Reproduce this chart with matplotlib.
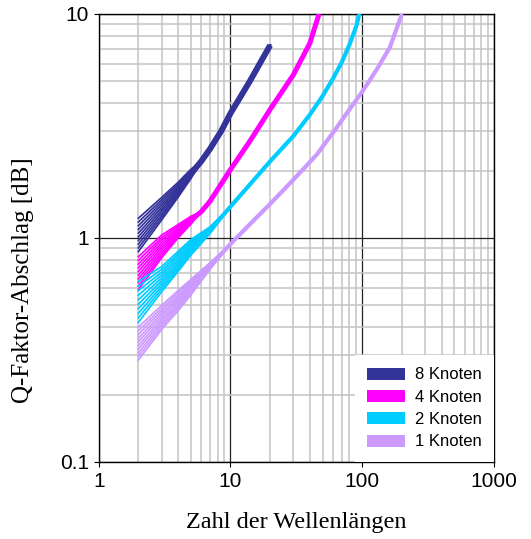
import matplotlib
matplotlib.use('Agg')
import matplotlib.pyplot as plt
from matplotlib.patches import Patch
from matplotlib.ticker import FixedLocator, LogLocator, NullFormatter

# 8 Knoten: Fächer (je Kurve ein Wert pro x) und gemeinsamer Verlauf danach
blue_fan_x = [2, 3, 4, 5]
blue_fan = [
    [0.869, 1.202, 1.519, 1.839],
    [0.903, 1.233, 1.545, 1.859],
    [0.938, 1.265, 1.571, 1.879],
    [0.974, 1.299, 1.598, 1.899],
    [1.012, 1.332, 1.626, 1.920],
    [1.051, 1.367, 1.654, 1.941],
    [1.092, 1.403, 1.682, 1.962],
    [1.134, 1.440, 1.711, 1.983],
    [1.178, 1.478, 1.741, 2.004],
    [1.225, 1.516, 1.772, 2.026],
]
blue_tail_x = [5, 6, 7, 8.5, 10, 14, 20]
blue_tail_y = [1.93, 2.2, 2.5, 3.0, 3.6, 5.0, 7.25]

# 4 Knoten
mag_fan_x = [2, 3, 4, 5]
mag_fan = [
    [0.587, 0.815, 1.000, 1.152],
    [0.609, 0.836, 1.015, 1.163],
    [0.633, 0.858, 1.031, 1.173],
    [0.657, 0.881, 1.047, 1.184],
    [0.682, 0.904, 1.064, 1.194],
    [0.709, 0.928, 1.080, 1.205],
    [0.736, 0.952, 1.097, 1.216],
    [0.764, 0.978, 1.114, 1.227],
    [0.794, 1.003, 1.132, 1.238],
    [0.825, 1.030, 1.148, 1.249],
]
mag_tail_x = [5, 6, 7, 10, 14, 20, 30, 40, 47]
mag_tail_y = [1.20, 1.31, 1.46, 2.02, 2.7, 3.75, 5.35, 7.4, 10.0]

# 2 Knoten
cyan_fan_x = [2, 3, 4, 5, 7]
cyan_fan = [
    [0.420, 0.575, 0.708, 0.838, 1.047],
    [0.440, 0.592, 0.724, 0.853, 1.055],
    [0.461, 0.609, 0.741, 0.868, 1.063],
    [0.483, 0.627, 0.759, 0.884, 1.071],
    [0.506, 0.645, 0.776, 0.900, 1.080],
    [0.530, 0.664, 0.794, 0.916, 1.088],
    [0.555, 0.684, 0.813, 0.932, 1.096],
    [0.582, 0.703, 0.832, 0.949, 1.105],
    [0.609, 0.724, 0.851, 0.966, 1.113],
    [0.640, 0.745, 0.871, 0.984, 1.122],
]
cyan_tail_x = [7, 10, 14, 20, 30, 40, 50, 60, 70, 80, 90, 95]
cyan_tail_y = [1.084, 1.38, 1.73, 2.2, 2.85, 3.55, 4.3, 5.15, 6.1, 7.3, 8.8, 10.0]

# 1 Knoten
lila_fan_x = [2, 3, 4, 5, 7]
lila_fan = [
    [0.285, 0.390, 0.473, 0.556, 0.724],
    [0.296, 0.401, 0.484, 0.566, 0.730],
    [0.307, 0.412, 0.496, 0.576, 0.735],
    [0.319, 0.424, 0.507, 0.587, 0.741],
    [0.331, 0.435, 0.519, 0.598, 0.746],
    [0.344, 0.448, 0.531, 0.608, 0.752],
    [0.357, 0.460, 0.543, 0.619, 0.758],
    [0.371, 0.473, 0.556, 0.631, 0.764],
    [0.385, 0.486, 0.569, 0.642, 0.769],
    [0.400, 0.500, 0.582, 0.653, 0.776],
]
lila_tail_x = [7, 10, 14, 20, 30, 45, 60, 80, 100, 130, 162, 200]
lila_tail_y = [0.75, 0.94, 1.15, 1.42, 1.82, 2.35, 2.95, 3.75, 4.5, 5.7, 7.1, 10.0]

labels = ['8 Knoten', '4 Knoten', '2 Knoten', '1 Knoten']
colors = ['#333399', '#ff00ff', '#00ccff', '#cc99ff']
tail_widths = [4.3, 3.6, 3.0, 3.0]

groups = [
    (blue_fan_x, blue_fan, blue_tail_x, blue_tail_y),
    (mag_fan_x, mag_fan, mag_tail_x, mag_tail_y),
    (cyan_fan_x, cyan_fan, cyan_tail_x, cyan_tail_y),
    (lila_fan_x, lila_fan, lila_tail_x, lila_tail_y),
]

fig = plt.figure(figsize=(5.31, 5.39), dpi=100)
ax = fig.add_axes([0.1859, 0.1429, 0.7445, 0.8312])

for (fx, fan, tx, ty), c, lw in zip(groups, colors, tail_widths):
    for row in fan:
        ax.plot(fx + tx[1:], row + ty[1:], color=c, lw=1.25, zorder=3)
    ax.plot(tx, ty, color=c, lw=lw, solid_capstyle='butt', zorder=3)

ax.set_xscale('log')
ax.set_yscale('log')
ax.set_xlim(1, 1000)
ax.set_ylim(0.1, 10)

ax.xaxis.set_major_locator(FixedLocator([1, 10, 100, 1000]))
ax.yaxis.set_major_locator(FixedLocator([0.1, 1, 10]))
ax.xaxis.set_minor_locator(LogLocator(base=10, subs=range(2, 10)))
ax.yaxis.set_minor_locator(LogLocator(base=10, subs=range(2, 10)))
ax.xaxis.set_minor_formatter(NullFormatter())
ax.yaxis.set_minor_formatter(NullFormatter())
ax.set_xticklabels(['1', '10', '100', '1000'], family='Liberation Sans', fontsize=15)
ax.set_yticklabels(['0.1', '1', '10'], family='Liberation Sans', fontsize=15)

ax.grid(which='minor', color='#c4c4c4', lw=1.1, zorder=0)
ax.grid(which='major', color='#222222', lw=0.9, zorder=1)
ax.set_axisbelow(True)
ax.tick_params(which='major', direction='out', length=3.6, width=0.8)
ax.tick_params(which='minor', length=0)
for s in ax.spines.values():
    s.set_color('black')
    s.set_linewidth(1.0)

ax.set_xlabel('Zahl der Wellenlängen', family='Liberation Serif', fontsize=17.5)
ax.set_ylabel('Q-Faktor-Abschlag [dB]', family='Liberation Serif', fontsize=18)
ax.xaxis.set_label_coords(0.5, -0.136)
ax.xaxis.label.set_va('center')
ax.yaxis.set_label_coords(-0.1925, 0.405)
ax.yaxis.label.set_va('center')

handles = [Patch(facecolor=c, edgecolor='none') for c in colors]
leg = ax.legend(handles, labels, loc='lower right', bbox_to_anchor=(1.0, 0.0),
                prop={'family': 'Liberation Sans', 'size': 12},
                handlelength=2.25, handleheight=0.72, handletextpad=0.6,
                labelspacing=0.44, borderpad=0.75, borderaxespad=0.0,
                frameon=True, fancybox=False, framealpha=1.0)
leg.get_frame().set_edgecolor('white')
leg.get_frame().set_linewidth(0)
leg.set_zorder(5)

fig.savefig('out.png', dpi=100)
